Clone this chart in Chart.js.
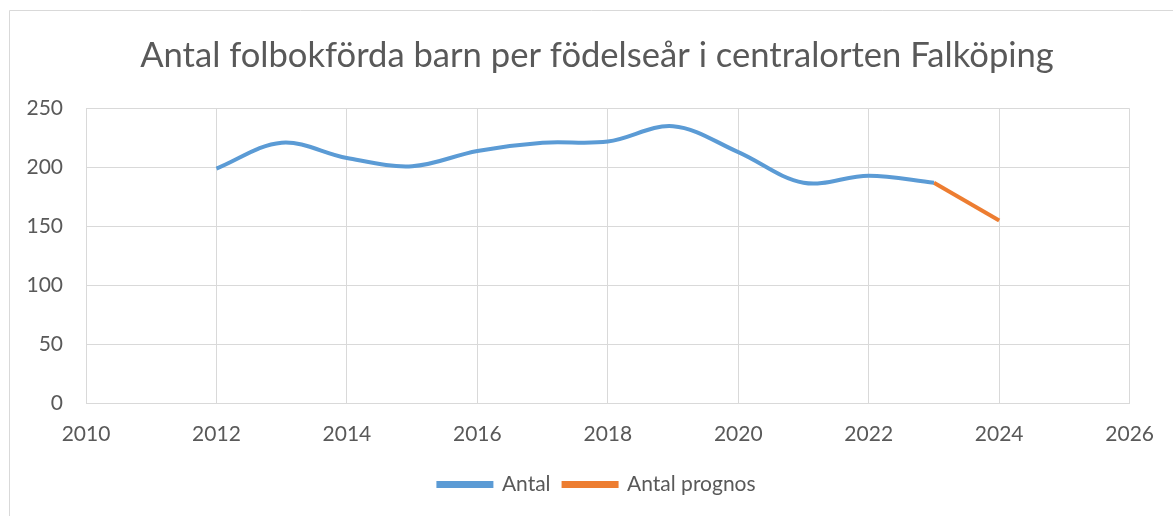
<!DOCTYPE html>
<html>
<head>
<meta charset="utf-8">
<script src="https://cdn.jsdelivr.net/npm/chart.js@4"></script>
<style>
  html, body { margin: 0; padding: 0; background: #fff; }
  #wrap { width: 1173px; height: 516px; }
</style>
</head>
<body>
<div id="wrap"><canvas id="barnChart" width="1173" height="516"></canvas></div>
<script>
const years = [2012, 2013, 2014, 2015, 2016, 2017, 2018, 2019, 2020, 2021, 2022, 2023];
const antal = [199, 221, 208, 201, 214, 221, 222, 235, 213, 187, 193, 187];
const prognosYears = [2023, 2024];
const prognos = [187, 155];
const xTicks = [2010, 2012, 2014, 2016, 2018, 2020, 2022, 2024, 2026];
const yTicks = [0, 50, 100, 150, 200, 250];

const FONT = "Lato, 'Open Sans', sans-serif";
const TEXT = "#595959";
const GRID = "#d9d9d9";

// ram runt diagrammet (som i Excel), rubrik och förklaring centreras på hela ramen
const frame = {
  id: "frame",
  afterLayout(chart) {
    [chart.titleBlock, chart.legend].forEach((box) => {
      if (!box) return;
      box.left = 9;
      box.right = 1185;
      box.width = box.right - box.left;
    });
  },
  beforeDraw(chart) {
    const ctx = chart.ctx;
    ctx.save();
    ctx.strokeStyle = GRID;
    ctx.lineWidth = 1;
    ctx.beginPath();
    ctx.moveTo(9.5, chart.height + 5);
    ctx.lineTo(9.5, 10.5);
    ctx.lineTo(chart.width + 5, 10.5);
    ctx.stroke();
    ctx.restore();
  },
};

const ctx = document.getElementById("barnChart").getContext("2d");
new Chart(ctx, {
  type: "line",
  data: {
    datasets: [
      {
        label: "Antal",
        data: years.map((y, i) => ({ x: y, y: antal[i] })),
        borderColor: "#5b9bd5",
        backgroundColor: "#5b9bd5",
        borderWidth: 4,
        pointRadius: 0,
        tension: 0.35,
        fill: false,
      },
      {
        label: "Antal prognos",
        data: prognosYears.map((y, i) => ({ x: y, y: prognos[i] })),
        borderColor: "#ed7d31",
        backgroundColor: "#ed7d31",
        borderWidth: 4,
        pointRadius: 0,
        tension: 0,
        fill: false,
      },
    ],
  },
  options: {
    responsive: false,
    animation: false,
    layout: { padding: { left: 20, right: 42, top: 0, bottom: 11 } },
    scales: {
      x: {
        type: "linear",
        min: 2010,
        max: 2026,
        afterBuildTicks: (scale) => { scale.ticks = xTicks.map((v) => ({ value: v })); },
        ticks: {
          color: TEXT,
          font: { family: FONT, size: 21 },
          padding: 19,
          maxRotation: 0,
          callback: (v) => String(v),
        },
        grid: { color: GRID, lineWidth: 1, drawTicks: false },
        border: { color: GRID },
        afterFit: (scale) => { scale.height = 58; },
      },
      y: {
        min: 0,
        max: 250,
        afterBuildTicks: (scale) => { scale.ticks = yTicks.map((v) => ({ value: v })); },
        ticks: {
          color: TEXT,
          font: { family: FONT, size: 21 },
          padding: 23,
        },
        grid: { color: GRID, lineWidth: 1, drawTicks: false },
        border: { display: false },
        afterFit: (scale) => { scale.width = 66; },
      },
    },
    plugins: {
      title: {
        display: true,
        text: "Antal folbokförda barn per födelseår i centralorten Falköping",
        color: TEXT,
        font: { family: FONT, size: 34.6, weight: "normal" },
        padding: { top: 35, bottom: 32 },
      },
      legend: {
        position: "bottom",
        labels: {
          color: TEXT,
          font: { family: FONT, size: 21 },
          boxWidth: 53,
          boxHeight: 3,
          padding: 13,
        },
      },
      tooltip: { enabled: false },
    },
  },
  plugins: [frame],
});
</script>
</body>
</html>
